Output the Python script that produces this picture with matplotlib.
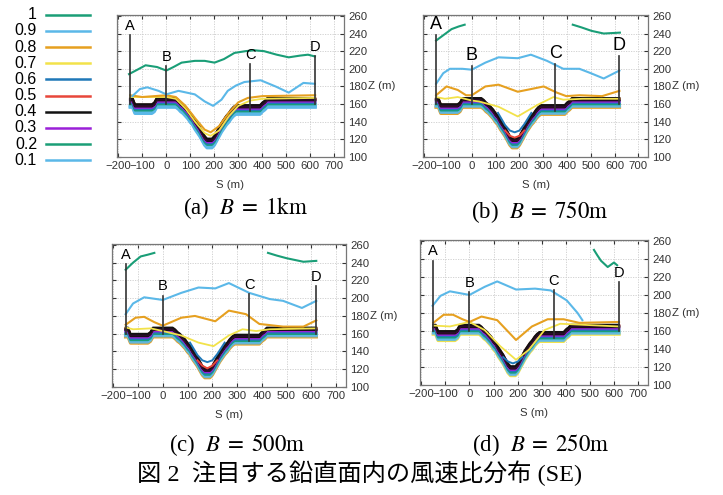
import numpy as np
import matplotlib
matplotlib.use("Agg")
import matplotlib.pyplot as plt

plt.rcParams['font.family'] = ['Liberation Sans', 'DejaVu Sans']
plt.rcParams['mathtext.fontset'] = 'stix'

# contour levels (wind speed ratio) and their colours
levels = [1, 0.9, 0.8, 0.7, 0.6, 0.5, 0.4, 0.3, 0.2, 0.1]
level_colors = ['#1a9e77', '#5bb8e8', '#e6a020', '#f2e24a', '#1f78b8',
                '#e8463a', '#111111', '#9a20d8', '#1a9e77', '#5bb8e8']

# ground profile S (m) / Z (m)
ground_s = [-150, -140, -130, -60, -50, -40, 40, 50, 60, 70, 80, 90, 100, 110, 120,
            130, 140, 150, 160, 170, 190, 200, 210, 220, 230, 240, 250, 260, 270,
            280, 290, 300, 390, 400, 410, 420, 430, 620]
ground_z = [165, 165, 158, 158, 160, 165, 165, 163, 160, 158, 155, 152, 148, 145, 140,
            136, 132, 127, 122, 119, 119, 122, 127, 132, 137, 141, 145, 148, 152,
            155, 157, 157, 157, 160, 162, 165, 165, 165]

# levels 0.6..0.1 hug the ground; shift of each line below the surface (m)
band_levels = [0.5, 0.4, 0.3, 0.6, 0.2, 0.1]
band_shift = [-1.0, 0.5, 2.0, 3.5, 5.0, 6.5]

# section markers
marker_names = ['A', 'B', 'C', 'D']
marker_s = [-150, 0, 350, 620]
marker_top = [238, 203, 205, 214]

# panel (a) B = 1km
a_10_s = [-155, -120, -86, -38, 0, 30, 64, 119, 160, 201, 240, 284, 330, 366, 407, 460, 510, 558, 590, 619]
a_10_z = [194, 199, 204, 202, 198, 202, 207, 209, 209, 207, 211, 218, 220, 221, 220, 216, 213, 215, 216, 214]
a_09_s = [-141, -110, -79, -32, 0, 51, 119, 160, 195, 230, 256, 290, 325, 393, 455, 510, 571, 619]
a_09_z = [169, 177, 179, 175, 171, 175, 171, 163, 158, 165, 175, 181, 185, 187, 180, 173, 184, 183]
a_08_s = [-150, -100, -50, 0, 40, 80, 120, 160, 185, 220, 260, 300, 340, 400, 620]
a_08_z = [170, 168, 169, 170, 168, 158, 144, 131, 128, 135, 150, 162, 167, 169, 170]
a_07_s = [-150, 0, 40, 80, 120, 160, 185, 220, 260, 300, 350, 400, 620]
a_07_z = [168, 168, 166, 155, 140, 127, 124, 130, 146, 158, 164, 166, 167]

# panel (b) B = 750m
b_10a_s = [-150, -120, -85, -55, -30]
b_10a_z = [232, 238, 245, 248, 250]
b_10b_s = [424, 460, 503, 554, 622]
b_10b_z = [250, 247, 243, 240, 241]
b_09_s = [-150, -120, -92, -40, 0, 57, 112, 193, 248, 316, 384, 452, 500, 554, 620]
b_09_z = [183, 195, 200, 200, 199, 207, 213, 212, 216, 209, 200, 200, 195, 189, 198]
b_08_s = [-150, -106, -59, -24, 0, 57, 112, 193, 248, 302, 357, 397, 452, 547, 620]
b_08_z = [170, 180, 176, 170, 170, 180, 182, 174, 177, 180, 173, 169, 170, 169, 175]
b_07_s = [-150, -113, -59, 0, 30, 112, 193, 275, 343, 384, 465, 620]
b_07_z = [168, 166, 168, 164, 163, 157, 146, 159, 168, 165, 166, 166]
b_06_s = [110, 140, 160, 180, 200, 220, 250]
b_06_z = [150, 136, 130, 128, 130, 137, 150]
b_05_s = [140, 160, 180, 200, 220]
b_05_z = [130, 124, 122, 124, 130]

# panel (c) B = 500m
c_10a_s = [-150, -120, -89, -60, -34]
c_10a_z = [232, 240, 247, 249, 251]
c_10b_s = [425, 460, 500, 568, 620]
c_10b_z = [251, 248, 245, 241, 242]
c_09_s = [-150, -120, -75, 0, 75, 144, 212, 267, 349, 432, 486, 562, 620]
c_09_z = [182, 194, 201, 198, 206, 212, 211, 217, 206, 199, 197, 189, 197]
c_08_s = [-150, -110, -75, -34, 0, 75, 130, 212, 267, 336, 390, 486, 568, 620]
c_08_z = [170, 178, 179, 173, 169, 178, 180, 174, 186, 182, 171, 168, 168, 175]
c_07_s = [-150, -120, -48, 0, 75, 144, 205, 267, 322, 377, 432, 620]
c_07_z = [167, 165, 166, 163, 158, 150, 146, 158, 165, 163, 165, 166]
c_06_s = [110, 140, 160, 180, 200, 220, 250]
c_06_z = [150, 136, 130, 128, 130, 137, 150]
c_05_s = [140, 160, 180, 200, 220]
c_05_z = [130, 124, 121, 124, 130]

# panel (d) B = 250m
d_10_s = [516, 530, 545, 573, 599, 612]
d_10_z = [250, 244, 238, 231, 236, 233]
d_09_s = [-153, -120, -81, 0, 63, 115, 193, 272, 337, 403, 448, 468]
d_09_z = [188, 199, 204, 200, 209, 215, 206, 207, 205, 194, 180, 172]
d_08_s = [-150, -107, -68, -29, 0, 50, 115, 193, 259, 324, 390, 455, 620]
d_08_z = [169, 178, 178, 173, 170, 176, 172, 150, 165, 173, 173, 169, 170]
d_07_s = [-150, -81, 0, 63, 128, 193, 246, 311, 376, 620]
d_07_z = [166, 165, 170, 161, 143, 128, 139, 161, 168, 165]
d_06_s = [140, 160, 180, 200, 220]
d_06_z = [131, 126, 124, 126, 131]

panels = [
    dict(tag='(a)', b='1km', green=[(a_10_s, a_10_z)], blue=(a_09_s, a_09_z),
         orange=(a_08_s, a_08_z), yellow=(a_07_s, a_07_z), extra=[], edge=0.1),
    dict(tag='(b)', b='750m', green=[(b_10a_s, b_10a_z), (b_10b_s, b_10b_z)], blue=(b_09_s, b_09_z),
         orange=(b_08_s, b_08_z), yellow=(b_07_s, b_07_z),
         extra=[(b_06_s, b_06_z, 0.6), (b_05_s, b_05_z, 0.5)], edge=0.8),
    dict(tag='(c)', b='500m', green=[(c_10a_s, c_10a_z), (c_10b_s, c_10b_z)], blue=(c_09_s, c_09_z),
         orange=(c_08_s, c_08_z), yellow=(c_07_s, c_07_z),
         extra=[(c_06_s, c_06_z, 0.6), (c_05_s, c_05_z, 0.5)], edge=0.8),
    dict(tag='(d)', b='250m', green=[(d_10_s, d_10_z)], blue=(d_09_s, d_09_z),
         orange=(d_08_s, d_08_z), yellow=(d_07_s, d_07_z),
         extra=[(d_06_s, d_06_z, 0.6)], edge=0.7),
]

W, H = 723, 495
fig = plt.figure(figsize=(W / 100, H / 100), dpi=100)


def rect(l, t, r, b):
    return [l / W, 1 - b / H, (r - l) / W, (b - t) / H]


boxes = [(117, 15, 344, 157), (423, 15, 648, 157), (112, 244, 346, 387), (420, 240, 648, 385)]
caption_xy = [(245, 208), (540, 212), (237, 445), (541, 445)]
letter_size = [10.5, 13, 10.5, 10.5]
col = dict(zip(levels, level_colors))

for p, box, cxy, lsz in zip(panels, boxes, caption_xy, letter_size):
    ax = fig.add_axes(rect(*box))
    gs = np.array(ground_s)
    gz = np.array(ground_z)
    # outer edge of the ground band
    ax.plot(gs, gz - 8.5, color=col[p['edge']], lw=2.4, zorder=2)
    ax.plot(gs, gz - 7.5, color='#5bb8e8', lw=2.2, alpha=0.85, zorder=2)
    for lev, sh in zip(band_levels[::-1], band_shift[::-1]):
        ax.plot(gs, gz - sh, color=col[lev], lw=1.8, zorder=3)
    ax.plot(gs, gz + 0.5, color='#2a0a2a', lw=1.8, zorder=4)
    ax.plot(gs, gz + 2.0, color='#111111', lw=1.3, zorder=4)
    for s, z, lev in p['extra']:
        ax.plot(s, z, color=col[lev], lw=1.4, zorder=4)
    ax.plot(*p['yellow'], color=col[0.7], lw=1.3, zorder=5)
    ax.plot(*p['orange'], color=col[0.8], lw=1.5, zorder=5)
    ax.plot(*p['blue'], color=col[0.9], lw=1.5, zorder=5)
    for s, z in p['green']:
        ax.plot(s, z, color=col[1], lw=1.5, zorder=5)

    for name, s, top in zip(marker_names, marker_s, marker_top):
        base = np.interp(s, ground_s, ground_z) - 5
        ax.plot([s, s], [base, top], color='#333333', lw=1.2, zorder=6)
        ax.text(s, top + 2.5, name, ha='center', va='bottom', fontsize=lsz, zorder=7)

    ax.set_xlim(-205, 740)
    ax.set_ylim(100, 261)
    ax.set_xticks(np.arange(-200, 701, 100))
    ax.set_yticks(np.arange(100, 261, 20))
    ax.grid(True, color='#cccccc', lw=0.6, ls=(0, (1.5, 1.5)))
    ax.yaxis.tick_right()
    ax.tick_params(direction='in', length=3, labelsize=8.2, colors='#333333',
                   left=True, right=True, top=True, bottom=True, pad=3)
    for sp in ax.spines.values():
        sp.set_color('#777777')
        sp.set_linewidth(0.9)
    ax.annotate('Z (m)', xy=(1, (180 - 100) / 161), xycoords='axes fraction',
                xytext=(17, 0), textcoords='offset points',
                fontsize=8.2, va='center', ha='left', color='#333333')
    ax.set_xlabel('S (m)', fontsize=8.2, labelpad=6, color='#333333')

    fig.text(cxy[0] / W, 1 - cxy[1] / H, p['tag'] + '  ' + r'$B\;=\;\mathrm{' + p['b'] + '}$',
             family=['Liberation Serif', 'DejaVu Serif'], fontsize=16.5,
             ha='center', va='center')

# legend
lax = fig.add_axes(rect(0, 5, 100, 170))
lax.set_xlim(0, 100)
lax.set_ylim(len(levels) - 0.4, -0.6)
lax.axis('off')
for i, (lev, c) in enumerate(zip(levels, level_colors)):
    lax.plot([46, 90], [i, i], color=c, lw=1.8)
    lax.text(37, i, str(lev), ha='right', va='center', fontsize=11.5)

fig.text(360 / W, 1 - 473 / H, '図 2  注目する鉛直面内の風速比分布 (SE)',
         family=['Liberation Serif', 'Noto Sans CJK JP'], fontsize=17.5,
         ha='center', va='center')

fig.savefig('out.png', dpi=100)
